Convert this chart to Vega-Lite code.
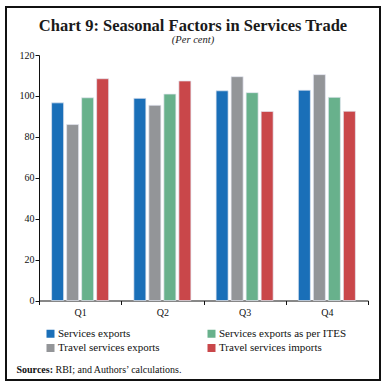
{
  "$schema": "https://vega.github.io/schema/vega-lite/v6.json",
  "width": 374,
  "height": 373,
  "autosize": {"type": "none"},
  "padding": {"left": 6, "top": 7, "right": 4, "bottom": 7},
  "background": "white",
  "title": {
    "text": "Chart 9: Seasonal Factors in Services Trade",
    "subtitle": "(Per cent)",
    "anchor": "middle",
    "frame": "group",
    "font": "Liberation Serif",
    "fontSize": 16.5,
    "fontWeight": "bold",
    "color": "#1a1a1a",
    "subtitleFont": "Liberation Serif",
    "subtitleFontSize": 10.5,
    "subtitleFontStyle": "italic",
    "subtitleColor": "#222",
    "subtitlePadding": 0,
    "offset": -38
  },
  "data": {
    "values": [
      {"q": "Q1", "series": "Services exports", "v": 96.6},
      {"q": "Q1", "series": "Travel services exports", "v": 86.0},
      {"q": "Q1", "series": "Services exports as per ITES", "v": 99.1},
      {"q": "Q1", "series": "Travel services imports", "v": 108.4},
      {"q": "Q2", "series": "Services exports", "v": 98.8},
      {"q": "Q2", "series": "Travel services exports", "v": 95.4},
      {"q": "Q2", "series": "Services exports as per ITES", "v": 100.9},
      {"q": "Q2", "series": "Travel services imports", "v": 107.3},
      {"q": "Q3", "series": "Services exports", "v": 102.5},
      {"q": "Q3", "series": "Travel services exports", "v": 109.4},
      {"q": "Q3", "series": "Services exports as per ITES", "v": 101.6},
      {"q": "Q3", "series": "Travel services imports", "v": 92.4},
      {"q": "Q4", "series": "Services exports", "v": 102.8},
      {"q": "Q4", "series": "Travel services exports", "v": 110.4},
      {"q": "Q4", "series": "Services exports as per ITES", "v": 99.3},
      {"q": "Q4", "series": "Travel services imports", "v": 92.5}
    ]
  },
  "mark": {"type": "bar", "stroke": "#e4e6f0", "strokeWidth": 0.7},
  "encoding": {
    "x": {
      "field": "q",
      "type": "nominal",
      "scale": {"range": [33, 362], "paddingInner": 0, "paddingOuter": 0},
      "axis": {
        "title": "Sources:",
        "titleFont": "Liberation Serif",
        "titleFontSize": 10,
        "titleFontWeight": "bold",
        "titleColor": "#111",
        "titleX": 10,
        "titleY": 72,
        "titleAlign": "left",
        "titleAnchor": "start",
        "titleBaseline": "alphabetic",
        "offset": -79.5,
        "labelAngle": 0,
        "labelFont": "Liberation Serif",
        "labelFontSize": 10,
        "labelColor": "#111",
        "labelPadding": 3,
        "tickBand": "extent",
        "tickSize": 4,
        "tickColor": "#111",
        "domainColor": "#111"
      }
    },
    "xOffset": {
      "field": "series",
      "type": "nominal",
      "sort": ["Services exports", "Travel services exports", "Services exports as per ITES", "Travel services imports"],
      "scale": {"paddingInner": 0.2, "paddingOuter": 0.84}
    },
    "y": {
      "field": "v",
      "type": "quantitative",
      "scale": {"domain": [0, 120], "range": [293.5, 48], "nice": false},
      "axis": {
        "title": "RBI; and Authors\u2019 calculations.",
        "titleFont": "Liberation Serif",
        "titleFontSize": 10,
        "titleFontWeight": "normal",
        "titleColor": "#111",
        "titleAngle": 0,
        "titleX": 16,
        "titleY": 365,
        "titleAlign": "left",
        "titleAnchor": "start",
        "titleBaseline": "alphabetic",
        "offset": -33,
        "values": [0, 20, 40, 60, 80, 100, 120],
        "grid": false,
        "labelFont": "Liberation Serif",
        "labelFontSize": 10,
        "labelColor": "#111",
        "labelPadding": 1,
        "tickSize": 4,
        "tickColor": "#111",
        "domainColor": "#111"
      }
    },
    "color": {
      "field": "series",
      "type": "nominal",
      "scale": {
        "domain": ["Services exports", "Travel services exports", "Services exports as per ITES", "Travel services imports"],
        "range": ["#1a6fb8", "#939598", "#68b18c", "#c9474a"]
      },
      "legend": {
        "title": null,
        "orient": "none",
        "legendX": 39,
        "legendY": 321,
        "columns": 2,
        "gridAlign": "all",
        "columnPadding": 20,
        "rowPadding": 2.5,
        "padding": 0,
        "symbolType": "square",
        "symbolSize": 64,
        "symbolStrokeWidth": 0,
        "labelFont": "Liberation Serif",
        "labelFontSize": 11,
        "labelColor": "#111",
        "labelOffset": 2,
        "labelLimit": 200
      }
    }
  },
  "config": {
    "view": {"stroke": "#111", "strokeWidth": 2}
  }
}
